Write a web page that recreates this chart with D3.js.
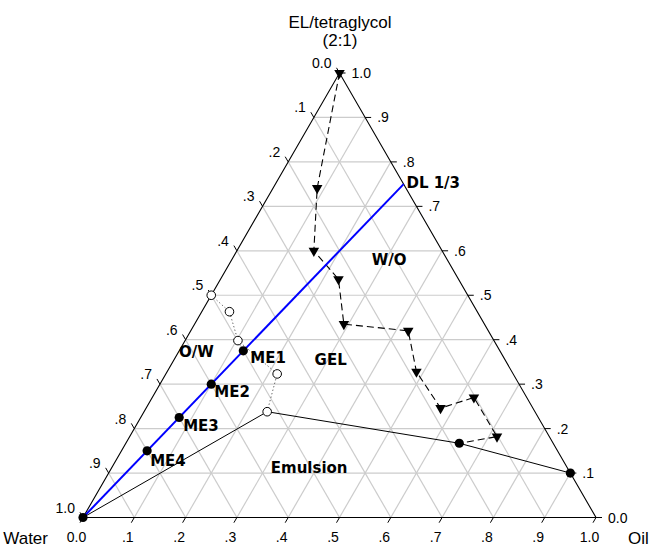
<!DOCTYPE html>
<html>
<head>
<meta charset="utf-8">
<script src="https://cdn.jsdelivr.net/npm/d3@7/dist/d3.min.js"></script>
<style>
  html, body { margin: 0; padding: 0; background: #fff; }
  svg { display: block; }
</style>
</head>
<body>
<svg id="chart" width="652" height="547"></svg>
<script>
// Compositions are given as fractions: water, oil, EL/tetraglycol (2:1)
const tickValues = [0, 0.1, 0.2, 0.3, 0.4, 0.5, 0.6, 0.7, 0.8, 0.9, 1.0];
const tickLabels = ["0.0", ".1", ".2", ".3", ".4", ".5", ".6", ".7", ".8", ".9", "1.0"];

// Dilution line, oil : surfactant mix = 1 : 3
const dlWater = [1.0, 0.0];
const dlOil   = [0.0, 0.25];
const dlTop   = [0.0, 0.75];

// Microemulsion formulations on the dilution line
const meNames = ["ME1", "ME2", "ME3", "ME4"];
const meWater = [0.5, 0.6, 0.7, 0.8];
const meOil   = [0.125, 0.1, 0.075, 0.05];
const meTop   = [0.375, 0.3, 0.225, 0.15];

// O/W boundary (open circles, dotted)
const owWater = [0.5, 0.483, 0.499, 0.46, 0.522];
const owOil   = [0.0, 0.054, 0.103, 0.217, 0.24];
const owTop   = [0.5, 0.463, 0.398, 0.323, 0.238];

// Emulsion boundary (solid line)
const emWater = [1.0, 0.522, 0.183, 0.0];
const emOil   = [0.0, 0.24, 0.65, 0.9];
const emTop   = [0.0, 0.238, 0.167, 0.1];
// filled circles on the emulsion boundary
const emDotIdx = [0, 2, 3];

// W/O / gel boundary (down triangles, dashed), ends at the emulsion boundary
const woOil = [0.0, 0.086, 0.15, 0.23, 0.291, 0.424, 0.486, 0.574, 0.627, 0.716];
const woTop = [1.0, 0.741, 0.60, 0.536, 0.435, 0.42, 0.328, 0.246, 0.27, 0.182];

// Region labels, anchored at an (oil, top) composition
const regionText  = ["O/W", "GEL", "W/O", "Emulsion", "DL 1/3"];
const regionOil   = [0.006, 0.28, 0.279, 0.316, 0.26];
const regionTop   = [0.362, 0.343, 0.568, 0.100, 0.741];

const svg = d3.select("#chart");

// Triangle frame: Water bottom-left, Oil bottom-right, EL/tetraglycol top
const xs = d3.scaleLinear().domain([0, 1]).range([83, 596]);
const ys = d3.scaleLinear().domain([0, 1]).range([517.5, 73]);
const P = (w, o, t) => [xs(o + t / 2), ys(t)];

const line = d3.line();

// Grid
const grid = svg.append("g").attr("stroke", "#cccccc").attr("stroke-width", 1.2).attr("fill", "none");
tickValues.slice(1, -1).forEach(v => {
  grid.append("path").attr("d", line([P(1 - v, 0, v), P(0, 1 - v, v)]));
  grid.append("path").attr("d", line([P(1 - v, v, 0), P(0, v, 1 - v)]));
  grid.append("path").attr("d", line([P(v, 1 - v, 0), P(v, 0, 1 - v)]));
});

// Frame
svg.append("path")
  .attr("d", line([P(1, 0, 0), P(0, 1, 0), P(0, 0, 1)]) + "Z")
  .attr("fill", "none").attr("stroke", "#000").attr("stroke-width", 1.1);

// Ticks and tick labels
const tk = 6, c30 = 0.5, s60 = Math.sqrt(3) / 2;
const axes = svg.append("g").attr("stroke", "#000").attr("stroke-width", 1);
const labels = svg.append("g").attr("font-family", "Arial, 'Liberation Sans', sans-serif")
  .attr("font-size", 14).attr("fill", "#000");
tickValues.forEach((v, i) => {
  // bottom: oil
  let [x, y] = P(1 - v, v, 0);
  axes.append("path").attr("d", line([[x, y], [x - c30 * tk, y + s60 * tk]]));
  labels.append("text").attr("x", x - 6.5).attr("y", 542).attr("text-anchor", "middle").text(tickLabels[i]);
  // right: EL/tetraglycol
  [x, y] = P(0, 1 - v, v);
  axes.append("path").attr("d", line([[x, y], [x + tk, y]]));
  labels.append("text").attr("x", x + 12).attr("y", y + 5).attr("text-anchor", "start").text(tickLabels[i]);
  // left: water
  [x, y] = P(v, 0, 1 - v);
  axes.append("path").attr("d", line([[x, y], [x - c30 * tk, y - s60 * tk]]));
  labels.append("text").attr("x", x - 8).attr("y", y - 5).attr("text-anchor", "end").text(tickLabels[i]);
});

// Axis titles
const titles = svg.append("g").attr("font-family", "Arial, 'Liberation Sans', sans-serif")
  .attr("font-size", 17).attr("fill", "#000");
titles.append("text").attr("x", 340).attr("y", 28).attr("text-anchor", "middle").text("EL/tetraglycol");
titles.append("text").attr("x", 340).attr("y", 46).attr("text-anchor", "middle").text("(2:1)");
titles.append("text").attr("x", 48).attr("y", 544).attr("text-anchor", "end").text("Water");
titles.append("text").attr("x", 628).attr("y", 544).attr("text-anchor", "start").text("Oil");

// Emulsion boundary
const emPts = emWater.map((w, i) => P(w, emOil[i], emTop[i]));
svg.append("path").attr("d", line(emPts)).attr("fill", "none").attr("stroke", "#000").attr("stroke-width", 1);

// O/W boundary
const owPts = owWater.map((w, i) => P(w, owOil[i], owTop[i]));
svg.append("path").attr("d", line(owPts)).attr("fill", "none")
  .attr("stroke", "#555").attr("stroke-width", 1).attr("stroke-dasharray", "1.2,2.4");

// W/O boundary
const woPts = woOil.map((o, i) => P(1 - o - woTop[i], o, woTop[i]));
const woLine = woPts.concat([emPts[2]]);
svg.append("path").attr("d", line(woLine)).attr("fill", "none")
  .attr("stroke", "#000").attr("stroke-width", 1.1).attr("stroke-dasharray", "7,4");

// Dilution line
const dlPts = dlWater.map((w, i) => P(w, dlOil[i], dlTop[i]));
svg.append("path").attr("d", line(dlPts)).attr("fill", "none").attr("stroke", "#0000ff").attr("stroke-width", 2);

// Markers
svg.append("g").selectAll("circle").data(owPts).join("circle")
  .attr("cx", d => d[0]).attr("cy", d => d[1]).attr("r", 4.3)
  .attr("fill", "#fff").attr("stroke", "#000").attr("stroke-width", 1);

const tri = d3.symbol().type(d3.symbolTriangle).size(48);
svg.append("g").selectAll("path").data(woPts).join("path")
  .attr("d", tri).attr("fill", "#000")
  .attr("transform", d => `translate(${d[0]},${d[1]}) rotate(180)`);

const mePts = meWater.map((w, i) => P(w, meOil[i], meTop[i]));
svg.append("g").selectAll("circle").data(mePts.concat(emDotIdx.map(i => emPts[i]))).join("circle")
  .attr("cx", d => d[0]).attr("cy", d => d[1]).attr("r", 4.6).attr("fill", "#000");

// Text annotations
const ann = svg.append("g").attr("font-family", "'DejaVu Sans', Verdana, sans-serif")
  .attr("font-weight", "bold").attr("font-size", 15).attr("fill", "#000");
const meDx = [7, 3, 4, 3], meDy = [12, 12.5, 14, 15];
ann.selectAll("text.me").data(mePts).join("text").attr("class", "me")
  .attr("x", (d, i) => d[0] + meDx[i]).attr("y", (d, i) => d[1] + meDy[i]).text((d, i) => meNames[i]);
regionText.forEach((s, i) => {
  const t = regionTop[i], o = regionOil[i];
  const [x, y] = P(1 - o - t, o, t);
  ann.append("text").attr("x", x).attr("y", y).text(s);
});
</script>
</body>
</html>
